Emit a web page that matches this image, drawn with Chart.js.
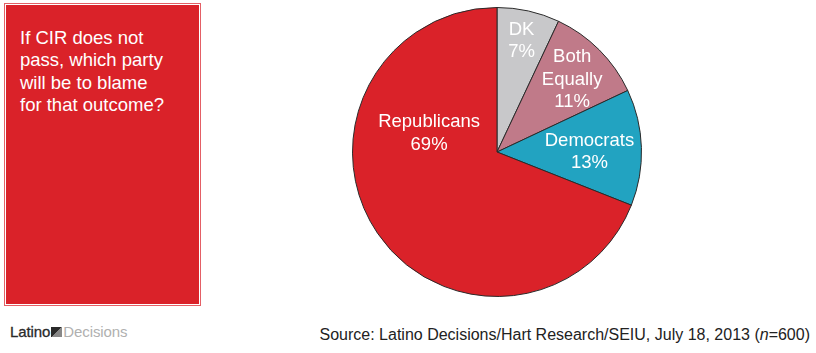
<!DOCTYPE html>
<html>
<head>
<meta charset="utf-8">
<script src="https://cdn.jsdelivr.net/npm/chart.js@4"></script>
<style>
  body { margin: 0; width: 816px; height: 353px; background: #fff; position: relative; overflow: hidden; font-family: "Liberation Sans", Arial, sans-serif; }
  #box { position: absolute; left: 5px; top: 4px; width: 193px; height: 299px; background: #da2229; border: 1px solid #fff; outline: 1px solid #e46066; }
  #box p { margin: 0; position: absolute; left: 14px; top: 22px; color: #fff; font-size: 18.5px; line-height: 22.3px; }
  #chartWrap { position: absolute; left: 352px; top: 7px; width: 290px; height: 290px; }
  #source { position: absolute; right: 6px; top: 326px; font-size: 16px; color: #222; }
  #logo { position: absolute; left: 10px; top: 323px; font-size: 15px; letter-spacing: -0.1px; }
  #logo .a { color: #2a2a2a; -webkit-text-stroke: 0.3px #2a2a2a; }
  #logo .b { color: #b0b0b0; }
  #logo .ico { display: inline-block; width: 11px; height: 10px; margin: 0 1px; background: linear-gradient(135deg, #2a2a2a 50%, #888 50%); }
</style>
</head>
<body>
<div id="box"><p>If CIR does not<br>pass, which party<br>will be to blame<br>for that outcome?</p></div>
<div id="chartWrap"><canvas id="pie"></canvas></div>
<div id="logo"><span class="a">Latino</span><span class="ico"></span><span class="b">Decisions</span></div>
<div id="source">Source: Latino Decisions/Hart Research/SEIU, July 18, 2013 (<i>n</i>=600)</div>
<script>
/*data*/
const categories = ['DK', 'Both Equally', 'Democrats', 'Republicans'];
const shares = [7, 11, 13, 69];
const sliceColors = ['#c8c8ca', '#c07a89', '#22a3c1', '#da2229'];

/*label placement - offsets from the centre, as a share of the radius*/
const labelOffsets = [[0.17, -0.77], [0.52, -0.50], [0.64, 0.0], [-0.47, -0.13]];

const pieLabels = {
    id: 'pieLabels',
    afterDatasetsDraw(chart) {
        const ctx = chart.ctx;
        const meta = chart.getDatasetMeta(0);
        ctx.save();
        ctx.fillStyle = '#fff';
        ctx.font = '18.5px "Liberation Sans", Arial, sans-serif';
        ctx.textAlign = 'center';
        ctx.textBaseline = 'middle';
        meta.data.forEach(function(arc, i) {
            const r = arc.outerRadius;
            const x = arc.x + labelOffsets[i][0] * r;
            const y = arc.y + labelOffsets[i][1] * r;
            let lines = categories[i].split(' ');
            lines.push(shares[i] + '%');
            const lh = 22.5;
            const top = y - (lines.length - 1) * lh / 2;
            lines.forEach(function(t, k) {
                ctx.fillText(t, x, top + k * lh);
            });
        });
        ctx.restore();
    }
};

new Chart(document.getElementById('pie'), {
    type: 'pie',
    data: {
        labels: categories,
        datasets: [{
            data: shares,
            backgroundColor: sliceColors,
            borderColor: '#2a2a2a',
            borderWidth: 1
        }]
    },
    options: {
        responsive: true,
        maintainAspectRatio: false,
        animation: false,
        layout: { padding: 0 },
        plugins: { legend: { display: false }, tooltip: { enabled: false } }
    },
    plugins: [pieLabels]
});
</script>
</body>
</html>
